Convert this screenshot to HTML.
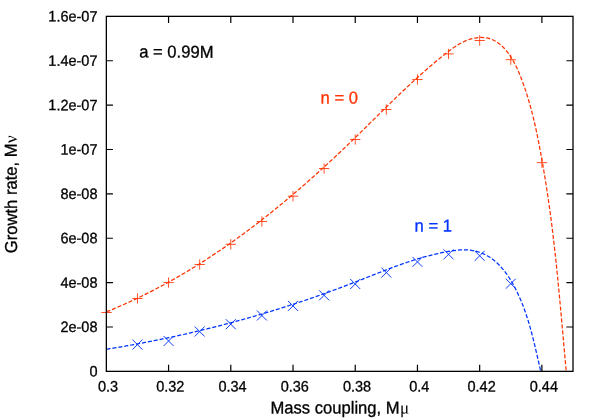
<!DOCTYPE html>
<html><head><meta charset="utf-8"><title>Growth rate</title>
<style>html,body{margin:0;padding:0;background:#fff;}body{width:599px;height:418px;overflow:hidden;position:relative;font-family:"Liberation Sans",sans-serif;}svg{will-change:transform;text-rendering:geometricPrecision;}</style>
</head><body>
<svg width="599" height="418" viewBox="0 0 599 418" style="position:absolute;left:0;top:0">
<rect width="599" height="418" fill="#fff"/>
<path d="M106.35,326.98h6.6M573.0,326.98h-6.6M106.35,282.60h6.6M573.0,282.60h-6.6M106.35,238.23h6.6M573.0,238.23h-6.6M106.35,193.85h6.6M573.0,193.85h-6.6M106.35,149.48h6.6M573.0,149.48h-6.6M106.35,105.10h6.6M573.0,105.10h-6.6M106.35,60.73h6.6M573.0,60.73h-6.6M168.57,371.35v-6.6M168.57,16.35v6.6M230.79,371.35v-6.6M230.79,16.35v6.6M293.01,371.35v-6.6M293.01,16.35v6.6M355.23,371.35v-6.6M355.23,16.35v6.6M417.45,371.35v-6.6M417.45,16.35v6.6M479.67,371.35v-6.6M479.67,16.35v6.6M541.89,371.35v-6.6M541.89,16.35v6.6" stroke="#000" stroke-width="1.2" fill="none"/>
<clipPath id="c"><rect x="100.0" y="16.0" width="473.0" height="355.5"/></clipPath>
<g clip-path="url(#c)" fill="none">
<path d="M106.42,311.82 L107.97,311.20 L109.51,310.57 L111.05,309.94 L112.59,309.30 L114.13,308.65 L115.66,308.01 L117.19,307.35 L118.72,306.70 L120.24,306.03 L121.77,305.37 L123.29,304.70 L124.81,304.02 L126.32,303.34 L127.83,302.66 L129.35,301.97 L130.85,301.27 L132.36,300.58 L133.86,299.87 L135.37,299.17 L136.86,298.46 L138.36,297.74 L139.86,297.02 L141.35,296.30 L142.84,295.57 L144.32,294.84 L145.81,294.10 L147.29,293.36 L148.77,292.61 L150.25,291.86 L151.73,291.11 L153.20,290.35 L154.67,289.59 L156.14,288.82 L157.60,288.05 L159.07,287.28 L160.53,286.50 L161.99,285.72 L163.45,284.93 L164.90,284.14 L166.36,283.35 L167.81,282.55 L169.25,281.75 L170.70,280.94 L172.14,280.13 L173.58,279.32 L175.02,278.50 L176.46,277.68 L177.90,276.85 L179.33,276.02 L180.76,275.19 L182.19,274.35 L183.61,273.51 L185.04,272.67 L186.46,271.82 L187.88,270.97 L189.30,270.11 L190.71,269.26 L192.12,268.39 L193.53,267.53 L194.94,266.66 L196.35,265.79 L197.75,264.91 L199.16,264.03 L200.56,263.15 L201.95,262.26 L203.35,261.37 L204.74,260.47 L206.14,259.58 L207.53,258.68 L208.91,257.77 L210.30,256.87 L211.68,255.96 L213.06,255.04 L214.44,254.12 L215.82,253.20 L217.19,252.28 L218.57,251.35 L219.94,250.42 L221.31,249.49 L222.68,248.56 L224.04,247.62 L225.40,246.67 L226.76,245.73 L228.12,244.78 L229.48,243.83 L230.84,242.87 L232.19,241.91 L233.54,240.95 L234.89,239.99 L236.24,239.02 L237.58,238.05 L238.92,237.08 L240.27,236.11 L241.60,235.13 L242.94,234.15 L244.28,233.16 L245.61,232.18 L246.94,231.19 L248.27,230.19 L249.60,229.20 L250.93,228.20 L252.25,227.20 L253.57,226.20 L254.89,225.19 L256.21,224.18 L257.53,223.17 L258.84,222.16 L260.15,221.14 L261.46,220.13 L262.77,219.10 L264.08,218.08 L265.39,217.05 L266.69,216.02 L267.99,214.99 L269.29,213.96 L270.59,212.92 L271.89,211.89 L273.18,210.84 L274.47,209.80 L275.76,208.76 L277.05,207.71 L278.34,206.66 L279.63,205.61 L280.91,204.55 L282.19,203.49 L283.47,202.43 L284.75,201.37 L286.03,200.31 L287.30,199.24 L288.58,198.18 L289.85,197.11 L291.12,196.03 L292.38,194.96 L293.65,193.88 L294.92,192.81 L296.18,191.73 L297.44,190.64 L298.70,189.56 L299.96,188.47 L301.21,187.39 L302.47,186.30 L303.72,185.20 L304.97,184.11 L306.22,183.02 L307.47,181.92 L308.72,180.82 L309.96,179.72 L311.21,178.62 L312.45,177.51 L313.69,176.41 L314.93,175.30 L316.16,174.19 L317.40,173.08 L318.63,171.96 L319.86,170.85 L321.09,169.73 L322.32,168.62 L323.55,167.50 L324.77,166.38 L326.00,165.25 L327.22,164.13 L328.44,163.01 L329.66,161.88 L330.88,160.75 L332.10,159.62 L333.31,158.49 L334.53,157.36 L335.74,156.22 L336.95,155.09 L338.16,153.95 L339.36,152.82 L340.57,151.68 L341.77,150.54 L342.98,149.40 L344.18,148.25 L345.38,147.11 L346.58,145.96 L347.77,144.82 L348.97,143.67 L350.16,142.52 L351.36,141.37 L352.55,140.22 L353.74,139.07 L354.93,137.92 L356.12,136.77 L357.30,135.61 L358.49,134.46 L359.67,133.30 L360.85,132.14 L362.03,130.98 L363.21,129.83 L364.39,128.67 L365.57,127.51 L366.75,126.35 L367.93,125.19 L369.11,124.03 L370.28,122.87 L371.46,121.71 L372.64,120.55 L373.81,119.39 L374.99,118.23 L376.16,117.07 L377.34,115.91 L378.52,114.75 L379.69,113.59 L380.87,112.43 L382.05,111.27 L383.23,110.11 L384.41,108.95 L385.58,107.79 L386.76,106.64 L387.95,105.48 L389.13,104.33 L390.31,103.17 L391.50,102.02 L392.68,100.87 L393.87,99.72 L395.06,98.57 L396.25,97.42 L397.44,96.28 L398.63,95.13 L399.82,93.99 L401.02,92.85 L402.22,91.71 L403.42,90.57 L404.62,89.43 L405.83,88.30 L407.03,87.16 L408.24,86.03 L409.45,84.90 L410.67,83.77 L411.89,82.65 L413.10,81.53 L414.33,80.41 L415.55,79.29 L416.78,78.17 L418.01,77.06 L419.24,75.95 L420.48,74.84 L421.72,73.74 L422.97,72.63 L424.21,71.53 L425.46,70.44 L426.72,69.34 L427.98,68.25 L429.24,67.17 L430.50,66.08 L431.77,65.00 L433.05,63.92 L434.33,62.85 L435.61,61.78 L436.89,60.71 L438.18,59.65 L439.48,58.59 L440.78,57.53 L442.08,56.48 L443.39,55.43 L444.71,54.38 L446.03,53.34 L447.35,52.31 L448.68,51.28 L450.02,50.27 L451.37,49.27 L452.73,48.29 L454.10,47.33 L455.48,46.40 L456.88,45.50 L458.29,44.62 L459.71,43.79 L461.16,42.99 L462.62,42.23 L464.10,41.51 L465.61,40.84 L467.13,40.23 L468.68,39.66 L470.25,39.16 L471.85,38.71 L473.47,38.33 L475.10,38.01 L476.74,37.76 L478.38,37.59 L480.03,37.49 L481.67,37.46 L483.31,37.52 L484.93,37.67 L486.53,37.90 L488.10,38.22 L489.65,38.63 L491.16,39.14 L492.65,39.75 L494.09,40.44 L495.50,41.21 L496.88,42.06 L498.22,42.98 L499.53,43.97 L500.80,45.03 L502.04,46.14 L503.24,47.31 L504.40,48.52 L505.53,49.78 L506.62,51.08 L507.68,52.41 L508.69,53.77 L509.67,55.15 L510.62,56.56 L511.52,57.98 L512.39,59.41 L513.23,60.86 L514.04,62.33 L514.82,63.80 L515.57,65.29 L516.30,66.79 L517.00,68.29 L517.69,69.81 L518.35,71.33 L519.00,72.86 L519.64,74.39 L520.26,75.93 L520.88,77.47 L521.48,79.01 L522.07,80.56 L522.65,82.11 L523.22,83.67 L523.78,85.23 L524.33,86.79 L524.87,88.35 L525.40,89.92 L525.92,91.49 L526.43,93.06 L526.94,94.64 L527.43,96.21 L527.92,97.80 L528.39,99.38 L528.86,100.97 L529.32,102.55 L529.78,104.14 L530.22,105.74 L530.66,107.33 L531.09,108.93 L531.51,110.53 L531.93,112.13 L532.34,113.74 L532.74,115.34 L533.14,116.95 L533.53,118.56 L533.91,120.17 L534.29,121.78 L534.67,123.40 L535.03,125.01 L535.40,126.63 L535.75,128.25 L536.10,129.87 L536.45,131.49 L536.79,133.11 L537.13,134.74 L537.47,136.36 L537.80,137.99 L538.12,139.62 L538.45,141.24 L538.77,142.87 L539.08,144.50 L539.40,146.13 L539.71,147.76 L540.01,149.39 L540.32,151.02 L540.62,152.65 L540.92,154.28 L541.22,155.92 L541.51,157.55 L541.81,159.18 L542.10,160.81 L542.39,162.45 L542.67,164.08 L542.96,165.71 L543.24,167.35 L543.52,168.98 L543.80,170.62 L544.07,172.25 L544.34,173.89 L544.61,175.53 L544.88,177.16 L545.15,178.80 L545.41,180.44 L545.67,182.08 L545.93,183.71 L546.19,185.35 L546.45,186.99 L546.70,188.63 L546.95,190.27 L547.20,191.91 L547.45,193.55 L547.69,195.19 L547.93,196.83 L548.17,198.47 L548.41,200.11 L548.65,201.75 L548.88,203.39 L549.12,205.03 L549.35,206.67 L549.58,208.32 L549.80,209.96 L550.03,211.60 L550.25,213.24 L550.47,214.89 L550.69,216.53 L550.91,218.17 L551.12,219.82 L551.33,221.46 L551.55,223.11 L551.75,224.75 L551.96,226.40 L552.17,228.04 L552.37,229.69 L552.57,231.33 L552.77,232.98 L552.97,234.62 L553.17,236.27 L553.36,237.92 L553.56,239.56 L553.75,241.21 L553.94,242.86 L554.13,244.50 L554.32,246.15 L554.50,247.80 L554.69,249.45 L554.87,251.09 L555.05,252.74 L555.23,254.39 L555.41,256.04 L555.59,257.69 L555.77,259.34 L555.94,260.98 L556.12,262.63 L556.29,264.28 L556.46,265.93 L556.63,267.58 L556.80,269.23 L556.97,270.88 L557.13,272.53 L557.30,274.18 L557.47,275.83 L557.63,277.48 L557.79,279.13 L557.95,280.78 L558.12,282.43 L558.28,284.08 L558.44,285.73 L558.60,287.38 L558.75,289.03 L558.91,290.69 L559.07,292.34 L559.22,293.99 L559.38,295.64 L559.53,297.29 L559.69,298.94 L559.84,300.59 L559.99,302.24 L560.15,303.89 L560.30,305.55 L560.45,307.20 L560.60,308.85 L560.75,310.50 L560.90,312.15 L561.05,313.80 L561.20,315.46 L561.35,317.11 L561.50,318.76 L561.65,320.41 L561.79,322.06 L561.94,323.71 L562.09,325.37 L562.24,327.02 L562.38,328.67 L562.53,330.32 L562.68,331.97 L562.83,333.62 L562.98,335.28 L563.12,336.93 L563.27,338.58 L563.42,340.23 L563.57,341.88 L563.71,343.53 L563.86,345.19 L564.01,346.84 L564.16,348.49 L564.31,350.14 L564.46,351.79 L564.61,353.44 L564.76,355.09 L564.91,356.74 L565.06,358.39 L565.21,360.05 L565.36,361.70 L565.51,363.35 L565.66,365.00 L565.82,366.65 L565.97,368.30 L566.12,369.95 L566.28,371.60" stroke="#ff3300" stroke-width="1.25" stroke-dasharray="4.1 1.9"/>
<path d="M106.48,349.24 L107.53,349.08 L108.57,348.91 L109.62,348.74 L110.66,348.57 L111.70,348.40 L112.75,348.23 L113.79,348.06 L114.83,347.89 L115.87,347.71 L116.92,347.54 L117.96,347.36 L119.00,347.18 L120.04,347.01 L121.09,346.83 L122.13,346.65 L123.17,346.47 L124.21,346.29 L125.25,346.11 L126.29,345.92 L127.33,345.74 L128.37,345.56 L129.42,345.37 L130.46,345.18 L131.50,345.00 L132.54,344.81 L133.58,344.62 L134.62,344.43 L135.66,344.24 L136.69,344.05 L137.73,343.85 L138.77,343.66 L139.81,343.47 L140.85,343.27 L141.89,343.07 L142.93,342.88 L143.96,342.68 L145.00,342.48 L146.04,342.28 L147.08,342.08 L148.12,341.88 L149.15,341.68 L150.19,341.47 L151.23,341.27 L152.26,341.06 L153.30,340.86 L154.34,340.65 L155.37,340.44 L156.41,340.23 L157.44,340.02 L158.48,339.81 L159.51,339.60 L160.55,339.39 L161.58,339.18 L162.62,338.96 L163.65,338.75 L164.69,338.53 L165.72,338.32 L166.76,338.10 L167.79,337.88 L168.82,337.66 L169.86,337.44 L170.89,337.22 L171.92,337.00 L172.96,336.77 L173.99,336.55 L175.02,336.33 L176.05,336.10 L177.09,335.87 L178.12,335.65 L179.15,335.42 L180.18,335.19 L181.21,334.96 L182.24,334.73 L183.27,334.50 L184.30,334.26 L185.33,334.03 L186.36,333.80 L187.39,333.56 L188.42,333.32 L189.45,333.09 L190.48,332.85 L191.51,332.61 L192.54,332.37 L193.57,332.13 L194.60,331.89 L195.63,331.65 L196.65,331.40 L197.68,331.16 L198.71,330.91 L199.74,330.67 L200.76,330.42 L201.79,330.17 L202.82,329.92 L203.84,329.67 L204.87,329.42 L205.90,329.17 L206.92,328.92 L207.95,328.67 L208.97,328.41 L210.00,328.16 L211.02,327.90 L212.05,327.64 L213.07,327.39 L214.10,327.13 L215.12,326.87 L216.15,326.61 L217.17,326.35 L218.19,326.09 L219.22,325.82 L220.24,325.56 L221.26,325.29 L222.28,325.03 L223.31,324.76 L224.33,324.49 L225.35,324.23 L226.37,323.96 L227.39,323.69 L228.41,323.42 L229.43,323.14 L230.45,322.87 L231.47,322.60 L232.49,322.32 L233.51,322.05 L234.53,321.77 L235.55,321.49 L236.57,321.22 L237.59,320.94 L238.61,320.66 L239.63,320.38 L240.65,320.09 L241.66,319.81 L242.68,319.53 L243.70,319.24 L244.72,318.96 L245.73,318.67 L246.75,318.39 L247.77,318.10 L248.78,317.81 L249.80,317.52 L250.81,317.23 L251.83,316.94 L252.85,316.65 L253.86,316.35 L254.87,316.06 L255.89,315.76 L256.90,315.47 L257.92,315.17 L258.93,314.87 L259.94,314.58 L260.96,314.28 L261.97,313.98 L262.98,313.67 L264.00,313.37 L265.01,313.07 L266.02,312.77 L267.03,312.46 L268.04,312.16 L269.05,311.85 L270.06,311.54 L271.07,311.23 L272.08,310.92 L273.09,310.61 L274.10,310.30 L275.11,309.99 L276.12,309.68 L277.13,309.36 L278.14,309.05 L279.15,308.73 L280.16,308.42 L281.16,308.10 L282.17,307.78 L283.18,307.46 L284.19,307.14 L285.19,306.82 L286.20,306.50 L287.21,306.18 L288.21,305.86 L289.22,305.53 L290.22,305.21 L291.23,304.88 L292.23,304.55 L293.24,304.23 L294.24,303.90 L295.25,303.57 L296.25,303.24 L297.25,302.91 L298.26,302.57 L299.26,302.24 L300.26,301.91 L301.26,301.57 L302.26,301.24 L303.27,300.90 L304.27,300.56 L305.27,300.22 L306.27,299.88 L307.27,299.54 L308.27,299.20 L309.27,298.86 L310.27,298.52 L311.27,298.17 L312.27,297.83 L313.27,297.48 L314.27,297.14 L315.26,296.79 L316.26,296.44 L317.26,296.09 L318.26,295.74 L319.25,295.39 L320.25,295.04 L321.25,294.69 L322.24,294.33 L323.24,293.98 L324.23,293.62 L325.23,293.27 L326.22,292.91 L327.22,292.55 L328.21,292.19 L329.21,291.83 L330.20,291.47 L331.19,291.11 L332.19,290.75 L333.18,290.39 L334.17,290.02 L335.16,289.66 L336.16,289.29 L337.15,288.92 L338.14,288.56 L339.13,288.19 L340.12,287.82 L341.11,287.45 L342.10,287.08 L343.09,286.71 L344.08,286.33 L345.07,285.96 L346.06,285.58 L347.05,285.21 L348.03,284.83 L349.02,284.45 L350.01,284.08 L351.00,283.70 L351.98,283.32 L352.97,282.94 L353.96,282.55 L354.94,282.17 L355.93,281.79 L356.91,281.40 L357.90,281.02 L358.88,280.63 L359.87,280.24 L360.85,279.86 L361.83,279.47 L362.82,279.08 L363.80,278.69 L364.78,278.30 L365.77,277.92 L366.75,277.53 L367.74,277.14 L368.72,276.75 L369.70,276.36 L370.68,275.97 L371.67,275.58 L372.65,275.19 L373.63,274.80 L374.62,274.42 L375.60,274.03 L376.59,273.64 L377.57,273.25 L378.55,272.87 L379.54,272.48 L380.52,272.10 L381.51,271.71 L382.49,271.33 L383.48,270.95 L384.46,270.57 L385.45,270.19 L386.44,269.81 L387.42,269.43 L388.41,269.06 L389.40,268.68 L390.39,268.31 L391.37,267.94 L392.36,267.57 L393.35,267.20 L394.34,266.83 L395.33,266.46 L396.33,266.10 L397.32,265.74 L398.31,265.38 L399.30,265.02 L400.30,264.67 L401.29,264.31 L402.29,263.96 L403.28,263.61 L404.28,263.26 L405.28,262.92 L406.28,262.58 L407.27,262.24 L408.27,261.90 L409.28,261.57 L410.28,261.24 L411.28,260.91 L412.28,260.58 L413.29,260.26 L414.29,259.94 L415.30,259.62 L416.31,259.31 L417.32,259.00 L418.33,258.69 L419.34,258.39 L420.35,258.09 L421.36,257.79 L422.38,257.49 L423.39,257.20 L424.41,256.92 L425.43,256.64 L426.45,256.36 L427.47,256.08 L428.49,255.81 L429.51,255.54 L430.54,255.28 L431.56,255.02 L432.59,254.77 L433.62,254.52 L434.65,254.27 L435.68,254.03 L436.71,253.79 L437.75,253.56 L438.78,253.33 L439.82,253.10 L440.86,252.88 L441.90,252.67 L442.94,252.46 L443.99,252.26 L445.03,252.06 L446.08,251.86 L447.13,251.67 L448.18,251.49 L449.23,251.31 L450.28,251.13 L451.34,250.97 L452.40,250.81 L453.45,250.66 L454.51,250.52 L455.57,250.39 L456.63,250.27 L457.69,250.16 L458.75,250.07 L459.81,249.99 L460.87,249.93 L461.92,249.88 L462.98,249.85 L464.04,249.84 L465.09,249.85 L466.15,249.88 L467.20,249.93 L468.25,250.00 L469.29,250.09 L470.34,250.21 L471.38,250.35 L472.42,250.52 L473.45,250.71 L474.48,250.92 L475.51,251.16 L476.53,251.42 L477.54,251.70 L478.55,252.01 L479.54,252.34 L480.53,252.69 L481.51,253.06 L482.48,253.45 L483.43,253.87 L484.38,254.30 L485.31,254.76 L486.23,255.23 L487.14,255.73 L488.04,256.24 L488.92,256.78 L489.80,257.33 L490.66,257.90 L491.50,258.49 L492.34,259.09 L493.17,259.71 L493.98,260.35 L494.78,261.01 L495.57,261.68 L496.35,262.36 L497.12,263.06 L497.88,263.78 L498.62,264.51 L499.36,265.25 L500.08,266.01 L500.80,266.77 L501.50,267.56 L502.20,268.35 L502.88,269.16 L503.56,269.97 L504.22,270.80 L504.87,271.64 L505.52,272.49 L506.15,273.34 L506.78,274.21 L507.40,275.09 L508.00,275.97 L508.60,276.87 L509.19,277.77 L509.77,278.67 L510.35,279.59 L510.91,280.51 L511.46,281.44 L512.01,282.37 L512.55,283.31 L513.08,284.25 L513.60,285.20 L514.12,286.15 L514.62,287.11 L515.12,288.06 L515.61,289.03 L516.10,289.99 L516.58,290.96 L517.05,291.92 L517.51,292.89 L517.96,293.86 L518.41,294.84 L518.86,295.81 L519.29,296.78 L519.72,297.75 L520.14,298.73 L520.56,299.70 L520.97,300.68 L521.38,301.66 L521.78,302.64 L522.17,303.62 L522.56,304.60 L522.94,305.58 L523.31,306.56 L523.68,307.55 L524.05,308.53 L524.41,309.52 L524.76,310.50 L525.11,311.49 L525.46,312.48 L525.80,313.47 L526.14,314.46 L526.47,315.45 L526.79,316.44 L527.12,317.44 L527.43,318.43 L527.75,319.43 L528.06,320.43 L528.37,321.42 L528.67,322.42 L528.97,323.42 L529.26,324.42 L529.55,325.43 L529.84,326.43 L530.13,327.43 L530.41,328.44 L530.69,329.44 L530.96,330.45 L531.24,331.46 L531.51,332.47 L531.78,333.48 L532.04,334.49 L532.31,335.50 L532.57,336.52 L532.83,337.53 L533.08,338.55 L533.34,339.57 L533.59,340.59 L533.84,341.60 L534.09,342.63 L534.34,343.65 L534.58,344.67 L534.83,345.69 L535.07,346.72 L535.32,347.74 L535.56,348.77 L535.80,349.80 L536.04,350.83 L536.28,351.86 L536.52,352.89 L536.76,353.93 L537.00,354.96 L537.23,356.00 L537.47,357.03 L537.71,358.07 L537.95,359.11 L538.19,360.15 L538.43,361.19 L538.67,362.23 L538.90,363.28 L539.14,364.32 L539.39,365.37 L539.63,366.41 L539.87,367.46 L540.11,368.51 L540.36,369.56 L540.61,370.62 L540.85,371.67" stroke="#0033ff" stroke-width="1.25" stroke-dasharray="4.1 1.9"/>
<path d="M101.40,312.50H111.70M106.55,307.35V317.65M132.31,298.50H142.61M137.46,293.35V303.65M163.42,282.55H173.72M168.57,277.40V287.70M194.53,264.50H204.83M199.68,259.35V269.65M225.64,244.30H235.94M230.79,239.15V249.45M256.75,221.50H267.05M261.90,216.35V226.65M287.86,196.20H298.16M293.01,191.05V201.35M318.97,168.50H329.27M324.12,163.35V173.65M350.08,139.50H360.38M355.23,134.35V144.65M381.19,109.50H391.49M386.34,104.35V114.65M412.30,79.50H422.60M417.45,74.35V84.65M443.41,53.90H453.71M448.56,48.75V59.05M474.52,40.50H484.82M479.67,35.35V45.65M505.63,59.70H515.93M510.78,54.55V64.85M536.74,162.65H547.04M541.89,157.50V167.80" stroke="#ff3300" stroke-width="0.85"/>
<path d="M132.46,339.60L142.46,349.60M132.46,349.60L142.46,339.60M163.57,336.00L173.57,346.00M163.57,346.00L173.57,336.00M194.68,326.50L204.68,336.50M194.68,336.50L204.68,326.50M225.79,319.20L235.79,329.20M225.79,329.20L235.79,319.20M256.90,310.50L266.90,320.50M256.90,320.50L266.90,310.50M288.01,300.90L298.01,310.90M288.01,310.90L298.01,300.90M319.12,290.30L329.12,300.30M319.12,300.30L329.12,290.30M350.23,279.00L360.23,289.00M350.23,289.00L360.23,279.00M381.34,267.60L391.34,277.60M381.34,277.60L391.34,267.60M412.45,256.90L422.45,266.90M412.45,266.90L422.45,256.90M443.56,249.30L453.56,259.30M443.56,259.30L453.56,249.30M474.67,250.80L484.67,260.80M474.67,260.80L484.67,250.80M505.78,278.70L515.78,288.70M505.78,288.70L515.78,278.70" stroke="#0033ff" stroke-width="0.95"/>
</g>
<rect x="106.35" y="16.35" width="466.65" height="355.0" fill="none" stroke="#000" stroke-width="1.3"/>
<g font-family="Liberation Sans, sans-serif" font-size="14.5" stroke-width="0.3">
<text transform="translate(97.50,376.40) rotate(0.03) scale(1,1.04)" fill="#000" stroke="#000" text-anchor="end">0</text>
<text transform="translate(97.50,332.03) rotate(0.03) scale(1,1.04)" fill="#000" stroke="#000" text-anchor="end">2e-08</text>
<text transform="translate(97.50,287.65) rotate(0.03) scale(1,1.04)" fill="#000" stroke="#000" text-anchor="end">4e-08</text>
<text transform="translate(97.50,243.28) rotate(0.03) scale(1,1.04)" fill="#000" stroke="#000" text-anchor="end">6e-08</text>
<text transform="translate(97.50,198.90) rotate(0.03) scale(1,1.04)" fill="#000" stroke="#000" text-anchor="end">8e-08</text>
<text transform="translate(97.50,154.53) rotate(0.03) scale(1,1.04)" fill="#000" stroke="#000" text-anchor="end">1e-07</text>
<text transform="translate(97.50,110.15) rotate(0.03) scale(1,1.04)" fill="#000" stroke="#000" text-anchor="end">1.2e-07</text>
<text transform="translate(97.50,65.78) rotate(0.03) scale(1,1.04)" fill="#000" stroke="#000" text-anchor="end">1.4e-07</text>
<text transform="translate(97.50,21.40) rotate(0.03) scale(1,1.04)" fill="#000" stroke="#000" text-anchor="end">1.6e-07</text>
<text transform="translate(108.00,391.50) rotate(0.03) scale(1,1.04)" fill="#000" stroke="#000" text-anchor="middle">0.3</text>
<text transform="translate(170.27,391.50) rotate(0.03) scale(1,1.04)" fill="#000" stroke="#000" text-anchor="middle">0.32</text>
<text transform="translate(232.53,391.50) rotate(0.03) scale(1,1.04)" fill="#000" stroke="#000" text-anchor="middle">0.34</text>
<text transform="translate(294.80,391.50) rotate(0.03) scale(1,1.04)" fill="#000" stroke="#000" text-anchor="middle">0.36</text>
<text transform="translate(357.07,391.50) rotate(0.03) scale(1,1.04)" fill="#000" stroke="#000" text-anchor="middle">0.38</text>
<text transform="translate(419.33,391.50) rotate(0.03) scale(1,1.04)" fill="#000" stroke="#000" text-anchor="middle">0.4</text>
<text transform="translate(481.60,391.50) rotate(0.03) scale(1,1.04)" fill="#000" stroke="#000" text-anchor="middle">0.42</text>
<text transform="translate(543.87,391.50) rotate(0.03) scale(1,1.04)" fill="#000" stroke="#000" text-anchor="middle">0.44</text>
</g>
<g font-family="Liberation Sans, sans-serif" font-size="16.6" stroke-width="0.3">
<text transform="translate(139.20,57.60) rotate(0.03) scale(1,1.04)" fill="#000" stroke="#000">a = 0.99M</text>
<text transform="translate(320.60,103.60) rotate(0.03) scale(1,1.04)" fill="#ff3300" stroke="#ff3300">n = 0</text>
<text transform="translate(414.60,231.40) rotate(0.03) scale(1,1.04)" fill="#0033ff" stroke="#0033ff">n = 1</text>
<text transform="translate(270.50,413.40) rotate(0.03) scale(1,1.04)" fill="#000" stroke="#000">Mass coupling, M<tspan font-family="Liberation Serif, serif" font-size="17" stroke="none" dx="0.4">μ</tspan></text>
<text transform="translate(16.90,253.20) rotate(-90.03) scale(1,1.04)" fill="#000" stroke="#000">Growth rate, M<tspan font-family="Liberation Serif, serif" font-size="17" stroke="none" dx="0.4">ν</tspan></text>
</g>
</svg>
</body></html>
